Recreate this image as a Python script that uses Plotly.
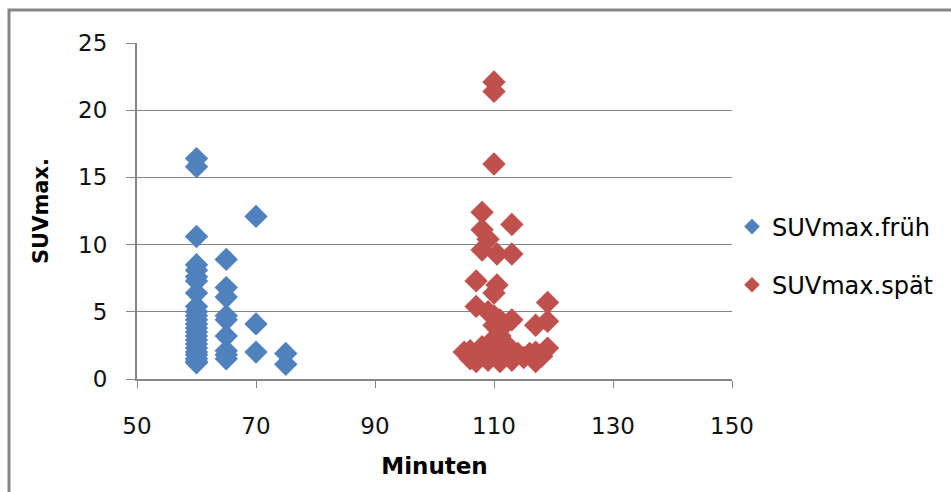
import plotly.graph_objects as go

# SUVmax.früh
frueh_x = [60]*24 + [65]*9 + [70]*3 + [75]*2
frueh_y = [16.4, 15.8, 10.6, 8.5, 8.1, 7.6, 7.3, 6.4, 5.4, 5.0, 4.7, 4.4, 4.1, 3.8,
           3.5, 3.2, 2.9, 2.6, 2.3, 2.0, 1.8, 1.5, 1.3, 1.2,
           8.9, 6.8, 6.1, 4.7, 4.4, 3.2, 2.1, 1.8, 1.5,
           12.1, 4.1, 2.0,
           1.9, 1.1]

# SUVmax.spät
spaet_x = [110, 110, 110, 108, 113, 108, 109, 108, 110.5, 113, 107, 110.5, 110, 119,
           107, 109, 110, 111, 113, 117, 119, 110, 111, 111,
           105, 106, 106, 107, 107, 108, 108, 109, 109, 110, 110, 110, 111, 111,
           112, 112, 113, 114, 115, 116, 117, 117, 118, 119]
spaet_y = [22.1, 21.4, 16.0, 12.4, 11.5, 11.1, 10.4, 9.6, 9.3, 9.3, 7.3, 7.0, 6.4, 5.7,
           5.4, 5.0, 4.7, 4.4, 4.4, 4.0, 4.3, 4.0, 3.7, 3.2,
           2.0, 1.5, 2.1, 1.7, 1.3, 2.4, 1.8, 1.4, 2.1, 1.8, 2.7, 3.0, 1.3, 2.2,
           1.8, 2.6, 1.4, 1.9, 1.6, 1.9, 1.3, 2.0, 1.7, 2.3]

x_ticks = [50, 70, 90, 110, 130, 150]
y_ticks = [0, 5, 10, 15, 20, 25]

BLUE = "#4F81BD"
RED = "#C0504D"
GRID = "#868686"
FONT = "DejaVu Sans"

fig = go.Figure()
fig.add_trace(go.Scatter(x=frueh_x, y=frueh_y, mode="markers", name="SUVmax.früh",
                         legendgroup="a",
                         marker=dict(symbol="diamond", size=18, color=BLUE,
                                     line=dict(width=0))))
fig.add_trace(go.Scatter(x=spaet_x, y=spaet_y, mode="markers", name="SUVmax.spät",
                         legendgroup="b",
                         marker=dict(symbol="diamond", size=18, color=RED,
                                     line=dict(width=0))))

W, H = 951, 492
L, R, T, B = 137, 219, 43, 113
pw, ph = W - L - R, H - T - B

fig.update_layout(
    width=W, height=H,
    margin=dict(l=L, r=R, t=T, b=B),
    paper_bgcolor="white", plot_bgcolor="white",
    font=dict(family=FONT, size=23, color="#000000"),
    showlegend=True,
    legend=dict(x=1.0, xanchor="left", y=(379 - 256) / ph, yanchor="middle",
                font=dict(family=FONT, size=24), tracegroupgap=24,
                itemsizing="constant", bgcolor="rgba(0,0,0,0)"),
    xaxis=dict(range=[50, 150], tickvals=x_ticks, ticktext=[str(v) for v in x_ticks],
               showgrid=False, zeroline=False, showline=True, linecolor=GRID,
               linewidth=2, ticks="outside", ticklen=7, tickcolor=GRID,
               ticklabelstandoff=18, tickfont=dict(color="#111111"),
               title=dict(text="<b>Minuten</b>", font=dict(family=FONT, size=23),
                          standoff=20)),
    yaxis=dict(range=[0, 25], tickvals=y_ticks, ticktext=[str(v) for v in y_ticks],
               showgrid=True, gridcolor=GRID, gridwidth=1, zeroline=False,
               showline=True, linecolor=GRID, linewidth=2, ticks="outside",
               ticklen=9, tickcolor=GRID, ticklabelstandoff=14,
               tickfont=dict(color="#111111"),
               title=dict(text="<b>SUVmax.</b>", font=dict(family=FONT, size=21),
                          standoff=24)),
)

# outer chart frame (extends past right and bottom edges)
fig.add_shape(type="rect", xref="paper", yref="paper",
              x0=(9 - L) / pw, x1=(W + 20 - L) / pw,
              y0=(H - B - (H + 20)) / ph, y1=(H - B - 10) / ph,
              line=dict(color=GRID, width=3), fillcolor="rgba(0,0,0,0)", layer="below")

fig.write_html("out.html")
